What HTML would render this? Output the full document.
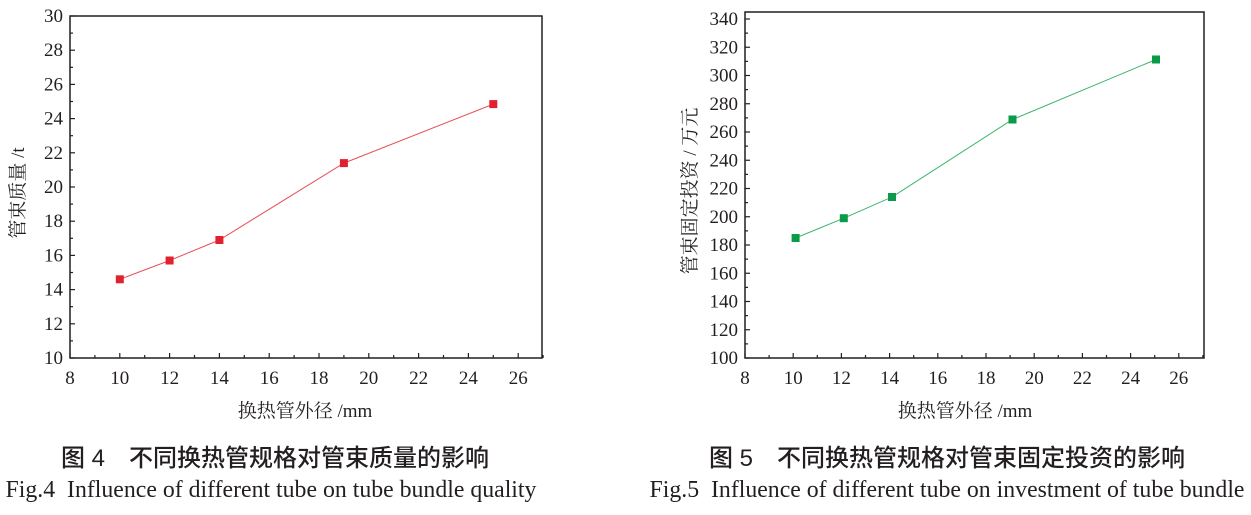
<!DOCTYPE html>
<html><head><meta charset="utf-8"><style>
body{margin:0;background:#fff;width:1251px;height:510px;overflow:hidden}
svg text{font-family:"Liberation Serif","Noto Serif CJK SC",serif;fill:#231f20}
.cap{font-family:"Liberation Sans","Noto Sans CJK SC",sans-serif;font-size:24px;font-weight:500}
</style></head><body>
<svg width="1251" height="510" xmlns="http://www.w3.org/2000/svg">
<rect x="70" y="16" width="472" height="342" stroke="#231f20" stroke-width="1.5" fill="none"/>
<polyline points="119.8,279.3 169.6,260.5 219.4,240 343.9,163.1 493.3,104.1" fill="none" stroke="#e8505a" stroke-width="1"/>
<g fill="#e0212e">
<rect x="115.8" y="275.3" width="8" height="8"/><rect x="165.6" y="256.5" width="8" height="8"/><rect x="215.4" y="236" width="8" height="8"/><rect x="339.9" y="159.1" width="8" height="8"/><rect x="489.3" y="100.1" width="8" height="8"/>
</g>
<text x="305" y="417" font-size="19" text-anchor="middle">换热管外径 /mm</text>
<text transform="translate(24,193) rotate(-90)" font-size="19" text-anchor="middle">管束质量 /t</text>

<rect x="745" y="12" width="459" height="346" stroke="#231f20" stroke-width="1.5" fill="none"/>
<polyline points="795.6,238 843.8,218.2 892,197 1012.5,119.5 1156,59.5" fill="none" stroke="#3cb46a" stroke-width="1"/>
<g fill="#0a9a48">
<rect x="791.6" y="234" width="8" height="8"/><rect x="839.8" y="214.2" width="8" height="8"/><rect x="888" y="193" width="8" height="8"/><rect x="1008.5" y="115.5" width="8" height="8"/><rect x="1152" y="55.5" width="8" height="8"/>
</g>
<text x="965" y="417" font-size="19" text-anchor="middle">换热管外径 /mm</text>
<text transform="translate(696,191) rotate(-90)" font-size="19" text-anchor="middle">管束固定投资 / 万元</text>

<text class="cap" x="275" y="466" text-anchor="middle">图 4　不同换热管规格对管束质量的影响</text>
<text x="271" y="497" font-size="23.8" text-anchor="middle" xml:space="preserve">Fig.4  Influence of different tube on tube bundle quality</text>
<text class="cap" x="947" y="466" text-anchor="middle">图 5　不同换热管规格对管束固定投资的影响</text>
<text x="947" y="497" font-size="23.8" text-anchor="middle" xml:space="preserve">Fig.5  Influence of different tube on investment of tube bundle</text>
</svg>
<script>
var NS="http://www.w3.org/2000/svg",s=document.querySelector('svg');
function ln(x1,y1,x2,y2){var e=document.createElementNS(NS,'line');e.setAttribute('x1',x1);e.setAttribute('y1',y1);e.setAttribute('x2',x2);e.setAttribute('y2',y2);e.setAttribute('stroke','#231f20');e.setAttribute('stroke-width','1.2');s.appendChild(e);}
function tx(x,y,t,a){var e=document.createElementNS(NS,'text');e.setAttribute('x',x);e.setAttribute('y',y);e.setAttribute('font-size','19');e.setAttribute('text-anchor',a);e.textContent=t;s.appendChild(e);}
for(var v=8;v<=27;v++){var x=70+(v-8)*24.9;var m=v%2==0;ln(x,358,x,358-(m?5:3));if(m)tx(x,384,v,'middle');}
for(var v=10;v<=30;v++){var y=358-(v-10)*17.1;var m=v%2==0;ln(70,y,70+(m?5:3),y);if(m)tx(63,y+6,v,'end');}
for(var v=8;v<=27;v++){var x=745+(v-8)*24.1;var m=v%2==0;ln(x,358,x,358-(m?5:3));if(m)tx(x,384,v,'middle');}
for(var v=100;v<=340;v+=10){var y=358-(v-100)*1.4125;var m=v%20==0;ln(745,y,745+(m?5:3),y);if(m)tx(738,y+6,v,'end');}
</script>
</body></html>
